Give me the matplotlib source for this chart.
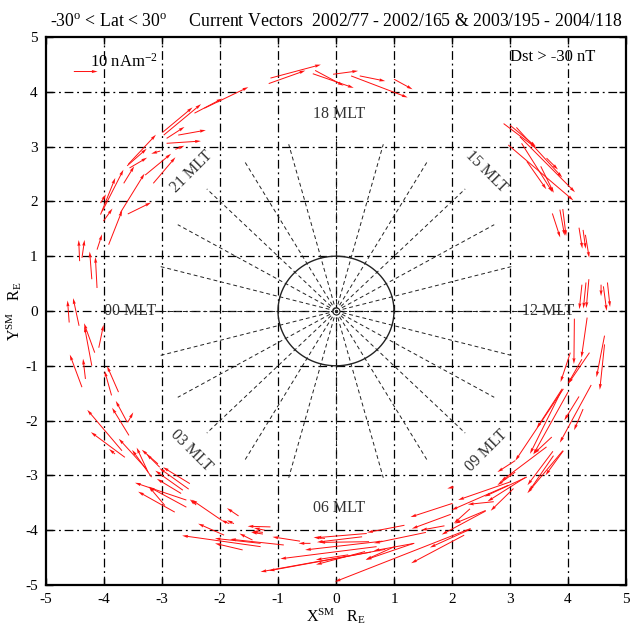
import numpy as np
import matplotlib
matplotlib.use("Agg")
import matplotlib.pyplot as plt

plt.rcParams['font.family'] = ['Liberation Serif', 'DejaVu Serif']
plt.rcParams['mathtext.fontset'] = 'custom'
plt.rcParams['mathtext.rm'] = 'Liberation Serif'
plt.rcParams['mathtext.it'] = 'Liberation Serif:italic'
plt.rcParams['axes.unicode_minus'] = False

# Current vectors: (x [R_E], y [R_E], jx [nA/m^2], jy [nA/m^2]) by local-time sector
dusk_vectors = [
    (-1.16, 4.15, 15.4, 5.8), (-1.13, 4.25, 21.2, 6.0), (-0.36, 4.39, 12.0, -6.8),
    (-0.40, 4.33, 17.2, -6.3), (-0.05, 4.32, 10.5, 1.5), (0.26, 4.29, 23.8, -9.6),
    (0.41, 4.29, 10.7, -2.3), (1.00, 4.23, 7.8, -4.5),
]
pre_midnight_vectors = [
    (-2.44, 3.61, 11.7, 6.5), (-2.27, 3.70, 18.5, 9.4), (-2.99, 3.26, 12.6, 11.1),
    (-2.97, 3.21, 15.7, 13.8), (-2.92, 3.15, 7.5, 5.1), (-2.72, 3.21, 11.6, 2.2),
    (-2.92, 3.06, 14.4, 1.0), (-2.77, 2.95, 3.8, 1.6), (-3.03, 2.92, -3.8, -1.2),
    (-3.60, 2.65, 8.2, 7.6), (-3.58, 2.68, 11.6, 13.1), (-3.56, 2.61, 7.4, 4.6),
    (-3.66, 2.33, 4.4, 7.6), (-3.29, 2.48, 10.9, 9.5), (-3.15, 2.33, 9.3, 11.6),
    (-3.72, 1.79, 10.2, 17.5), (-3.59, 1.77, 9.8, 5.1), (-3.92, 1.21, 5.7, 15.3),
    (-4.03, 1.82, 8.9, 18.5), (-4.06, 1.97, 2.3, 3.9), (-4.06, 1.76, 6.2, 16.3),
    (-4.01, 1.64, 3.8, 5.6), (-4.12, 1.12, 2.1, 6.8),
    (-4.42, 0.91, -0.4, 9.4), (-4.38, 0.97, 1.1, 8.0), (-4.21, 0.58, -0.9, 12.3),
    (-4.12, 0.42, -0.7, 13.8),
]
post_midnight_vectors = [
    (-4.60, -0.21, -0.7, 9.8), (-4.43, -0.27, -2.5, 12.3), (-4.16, -0.76, -4.5, 13.1),
    (-4.21, -1.00, -3.1, 17.5), (-4.09, -0.67, 2.0, 10.2), (-4.38, -1.39, -5.1, 14.5),
    (-4.32, -1.24, -1.0, 9.0), (-3.75, -1.48, -4.8, 11.6), (-3.87, -1.54, -2.9, 10.9),
    (-3.60, -2.03, -4.8, 9.5), (-3.57, -2.27, -7.1, 12.3), (-3.59, -2.03, 2.3, 4.4),
    (-3.69, -2.55, -14.6, 18.2), (-3.64, -2.67, -14.3, 11.2), (-3.81, -2.61, -2.5, 2.2),
    (-3.27, -2.88, -11.6, 13.4), (-3.24, -2.94, -4.8, 10.9), (-3.18, -3.03, -8.2, 12.1),
    (-3.07, -2.79, -6.8, 6.3),
    (-2.52, -3.15, -11.3, 7.3), (-2.64, -3.27, -11.6, 8.7), (-2.58, -3.45, -21.6, 7.7),
    (-2.78, -3.67, -15.4, 9.1), (-2.95, -3.55, -6.8, 8.5), (-2.54, -3.25, -12.3, 9.3),
    (-2.67, -3.33, -10.2, 6.5), (-2.58, -3.58, -15.7, 9.0), (-3.04, -2.85, -5.5, 5.8),
    (-2.41, -3.54, -2.7, 2.5), (-1.97, -3.82, -12.7, 9.2), (-1.84, -3.88, -3.4, 1.5),
    (-1.76, -3.88, -3.0, 1.5), (-1.68, -3.74, -4.9, 3.5), (-1.93, -4.09, -10.9, 5.1),
    (-1.44, -4.18, -5.5, 2.9), (-1.13, -3.94, -9.6, 0.3), (-1.23, -4.00, -4.5, 1.0),
    (-1.26, -4.04, -4.5, 0.5), (-1.26, -4.07, -5.0, 0.8),
]
dawn_vectors = [
    (-1.30, -4.30, -33.0, 4.9), (-1.30, -4.24, -19.2, 2.2), (-0.90, -4.27, -22.6, 2.6),
    (-1.61, -4.36, -11.6, 2.9), (-0.62, -4.20, -11.6, 1.9), (-0.44, -4.24, -5.0, 0.0),
    (-0.19, -4.15, -4.8, 0.5),
    (1.18, -3.91, -15.7, -3.2), (0.53, -4.06, -21.5, -1.9), (0.57, -4.21, -20.9, -0.3),
    (1.35, -4.24, -17.1, -3.3), (1.01, -4.30, -12.1, -5.8), (0.21, -4.45, -13.6, -2.2),
    (0.50, -4.39, -20.6, -5.8), (0.85, -4.35, -52.5, -10.0), (0.60, -4.40, -42.9, -8.3),
    (0.70, -4.30, -40.5, -5.4), (0.80, -4.20, -32.5, -3.9), (0.45, -4.12, -19.0, -2.4),
]
pre_noon_vectors = [
    (3.09, -2.94, -7.5, -5.8), (3.26, -3.04, -15.8, -10.6), (2.72, -3.48, -10.9, -1.2),
    (3.00, -3.12, -21.8, -8.0), (2.97, -3.18, -23.8, -11.0), (3.06, -3.24, -9.6, -9.9),
    (3.91, -2.55, -14.9, -18.9), (2.01, -3.51, -17.7, -6.1), (2.31, -3.61, -6.8, -6.5),
    (2.58, -3.64, -13.0, -5.8), (2.58, -3.65, -18.5, -10.5), (1.98, -3.71, -16.4, -6.4),
    (1.87, -3.92, -9.8, -1.9), (1.55, -4.04, -21.8, -4.8), (2.32, -3.98, -17.1, -8.2),
    (2.32, -3.97, -57.1, -23.7), (1.34, -4.24, -20.2, -7.3), (2.21, -4.09, -22.3, -12.5),
    (2.03, -3.21, -2.7, -0.7), (3.74, -2.56, -10.7, -15.1),
    (4.04, -0.76, -4.1, -13.1), (4.37, -0.76, -8.9, -13.8), (4.24, -0.88, -5.9, -10.9),
    (4.11, -0.14, -0.2, -20.2), (4.33, -0.12, -2.4, -17.8), (4.63, -0.45, -3.4, -18.5),
    (4.63, -0.61, -2.0, -20.2), (3.92, -1.42, -20.2, -32.0), (4.00, -1.48, -14.6, -27.8),
    (4.40, -1.35, -13.2, -25.7), (4.19, -1.56, -6.2, -10.6), (4.26, -1.79, -3.8, -9.4),
    (3.72, -2.30, -7.5, -7.4), (3.63, -2.48, -19.2, -15.3), (3.92, -2.55, -7.5, -10.9),
    (3.75, -2.64, -10.3, -15.8), (3.09, -2.73, -7.5, -5.1), (3.29, -3.03, -17.8, -8.7),
    (3.90, -1.42, -10.7, -17.5), (3.89, -1.45, -13.3, -28.2),
]
afternoon_vectors = [
    (2.89, 3.42, 13.7, -10.9), (3.00, 3.39, 10.9, -9.5), (3.11, 3.35, 19.3, -22.3),
    (2.97, 3.03, 27.4, -24.7), (3.17, 3.18, 23.2, -24.7), (3.20, 3.06, 13.0, -21.8),
    (3.53, 2.64, 5.5, -11.8), (3.29, 2.73, 8.2, -12.4), (3.63, 2.79, 4.8, -5.1),
    (3.73, 1.78, 3.3, -10.7), (3.86, 1.85, 2.0, -11.6), (3.91, 1.86, 1.4, -12.0),
    (4.19, 1.52, 1.4, -9.3), (4.26, 1.48, 1.1, -8.4), (4.30, 1.39, 1.6, -10.2),
    (4.24, 0.48, -1.1, -10.9), (4.31, 0.52, -1.1, -11.6), (4.36, 0.58, -1.1, -12.8),
    (4.57, 0.48, 0.0, -5.1), (4.61, 0.45, 1.4, -10.9), (4.68, 0.52, 1.1, -10.9),
]

sectors = [dusk_vectors, pre_midnight_vectors, post_midnight_vectors,
           dawn_vectors, pre_noon_vectors, afternoon_vectors]
vec = np.array([row for s in sectors for row in s])

mlt_hours = [18, 15, 12, 9, 6, 3, 0, 21]
ticks = np.arange(-5, 6)
key_value = 10.0   # nA m^-2 reference arrow
SCALE = 24.4       # nA m^-2 per R_E of arrow length

fig = plt.figure(figsize=(6.33, 6.26), dpi=100)
ax = fig.add_axes([46/633, 41/626, 580/633, 548/626])
ax.set_xlim(-5, 5)
ax.set_ylim(-5, 5)

# dash-dot grid
for t in ticks[1:-1]:
    ax.axvline(t, color='black', lw=0.9, dashes=(7, 3, 1.5, 3), zorder=1)
    ax.axhline(t, color='black', lw=0.9, dashes=(7, 3, 1.5, 3), zorder=1)

# local-time spokes every hour
for h in range(24):
    a = np.deg2rad((h - 12) * 15.0)
    ax.plot([0, 3.15 * np.cos(a)], [0, 3.15 * np.sin(a)], color='#222222',
            lw=0.7, dashes=(4, 3), zorder=2)

# Earth and its centre
th = np.linspace(0, 2 * np.pi, 400)
ax.plot(np.cos(th), np.sin(th), color='#222222', lw=1.0, zorder=3)
ax.plot([0], [0], marker='o', ms=5, mfc='white', mec='#222222', mew=0.8, zorder=4)
ax.plot([0], [0], marker='o', ms=1.5, color='#222222', zorder=5)

for h in mlt_hours:
    a = np.deg2rad((h - 12) * 15.0)
    rot = 0
    if h in (15, 3):
        rot = -45
    elif h in (21, 9):
        rot = 45
    ax.text(3.6 * np.cos(a) + 0.05, 3.6 * np.sin(a), f"{h:02d} MLT", rotation=rot,
            ha='center', va='center', fontsize=11.5, color='#333333', zorder=3)

qkw = dict(angles='xy', scale_units='xy', scale=SCALE, color='#ff1010',
           width=0.0017, headwidth=3.2, headlength=6, headaxislength=5.5, zorder=6)
ax.quiver(vec[:, 0], vec[:, 1], vec[:, 2], vec[:, 3], **qkw)
ax.quiver([-4.52], [4.37], [key_value], [0.0], **qkw)
ax.text(-4.25, 4.38, "%d nAm$^{-2}$" % key_value, fontsize=12, ha='left', va='bottom')
ax.text(3.0, 4.64, "Dst > -30 nT", fontsize=12, ha='left', va='center')

ax.set_xticks(ticks)
ax.set_yticks(ticks)
ax.tick_params(direction='in', length=5, width=1.0, labelsize=11,
               top=True, right=True, pad=6)
for sp in ax.spines.values():
    sp.set_linewidth(1.6)

ax.set_xlabel("X$^{\\rm SM}$   R$_{\\rm E}$", fontsize=11.5, labelpad=0)
ax.set_ylabel("Y$^{\\rm SM}$   R$_{\\rm E}$", fontsize=11.5, labelpad=1)
ax.set_title("-30$^{\\rm o}$ < Lat < 30$^{\\rm o}$     Current Vectors  "
             "2002/77 - 2002/165 & 2003/195 - 2004/118", fontsize=12.8, pad=8)

fig.savefig("out.png", dpi=100)
